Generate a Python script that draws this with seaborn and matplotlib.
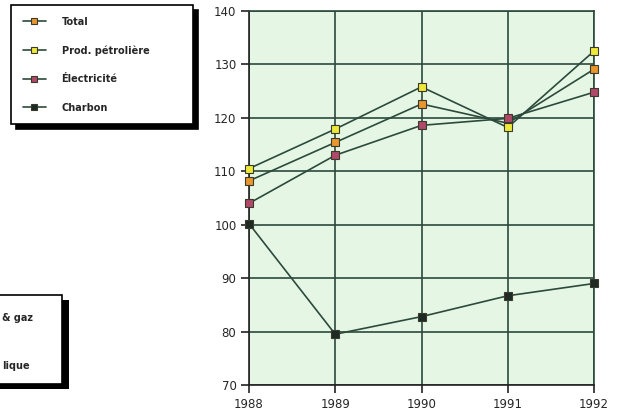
import pandas as pd
import numpy as np
import matplotlib
matplotlib.use("Agg")
import matplotlib.pyplot as plt
import seaborn as sns
from matplotlib.lines import Line2D
from matplotlib.patches import Rectangle

# data (index 1988 = 100)
years = [1988, 1989, 1990, 1991, 1992]
total = [108.2, 115.4, 122.6, 119.0, 129.1]
petrol = [110.5, 117.9, 125.8, 118.2, 132.5]
electricite = [104.0, 113.0, 118.6, 119.9, 124.8]
charbon = [100.2, 79.5, 82.8, 86.7, 89.0]
series_names = ["Total", "Prod. pétrolière", "Électricité", "Charbon"]
y_ticks = [70, 80, 90, 100, 110, 120, 130, 140]

face_colors = ["#e8962e", "#eee83a", "#b0486a", "#1e2a24"]
line_col = "#2c4a3c"

df = pd.DataFrame({"year": years, "Total": total, "Prod. pétrolière": petrol,
                   "Électricité": electricite, "Charbon": charbon})

sns.set_style("ticks")
plt.rcParams['font.family'] = ['DejaVu Sans']

fig = plt.figure(figsize=(6.26, 4.18), dpi=100)
ax = fig.add_axes([249/626, 1-385/418, (594-249)/626, (385-11)/418])
ax.set_facecolor("#e5f6e5")

for name, fc in zip(series_names, face_colors):
    sns.lineplot(data=df, x="year", y=name, ax=ax, color=line_col, lw=1.2,
                 marker="s", markersize=6, markerfacecolor=fc,
                 markeredgecolor="#3a3a2a", markeredgewidth=0.8, zorder=3,
                 clip_on=False)

ax.set_xlim(1988, 1992)
ax.set_ylim(70, 140)
ax.set_xticks(years)
ax.set_yticks(y_ticks)
ax.grid(True, color=line_col, lw=1.2)
ax.set_axisbelow(True)
ax.set_xlabel("")
ax.set_ylabel("")
for s in ax.spines.values():
    s.set_visible(True)
    s.set_color(line_col)
    s.set_linewidth(1.2)
ax.spines['left'].set_color("#222222")
ax.spines['bottom'].set_color("#222222")
ax.tick_params(axis='both', direction='out', length=6, width=1.2, color="#222222",
               labelsize=8.5, pad=3, left=True, bottom=True)

# legend box with shadow
handles = [Line2D([0], [0], color=line_col, lw=1.2, marker="s", markersize=5,
                  markerfacecolor=fc, markeredgecolor="#3a3a2a", markeredgewidth=0.8)
           for fc in face_colors]
leg = fig.legend(handles, series_names, loc="upper left",
                 bbox_to_anchor=(11/626, 1-5/418, 182/626, 0.0), mode="expand",
                 borderaxespad=0, frameon=True, fancybox=False, labelspacing=1.9,
                 handlelength=2.4, handletextpad=1.6, borderpad=1.2,
                 prop={'weight': 'bold', 'size': 7},
                 shadow={'ox': 3.5, 'oy': -3.5, 'color': 'black', 'alpha': 1})
leg.get_frame().set_edgecolor("black")
leg.get_frame().set_linewidth(1.2)

# second (cut-off) legend box at the bottom left
fig.patches.append(Rectangle((-15/626, 1-389/418), 84/626, 89/418,
                             transform=fig.transFigure, facecolor="black",
                             edgecolor="none", zorder=1))
fig.patches.append(Rectangle((-20/626, 1-384/418), 82/626, 89/418,
                             transform=fig.transFigure, facecolor="white",
                             edgecolor="black", lw=1.2, zorder=2))
fig.text(2/626, 1-318/418, "& gaz", fontsize=7, weight="bold",
         va="center", ha="left", zorder=3)
fig.text(2/626, 1-366/418, "lique", fontsize=7, weight="bold",
         va="center", ha="left", zorder=3)

fig.savefig("out.png", dpi=100)
